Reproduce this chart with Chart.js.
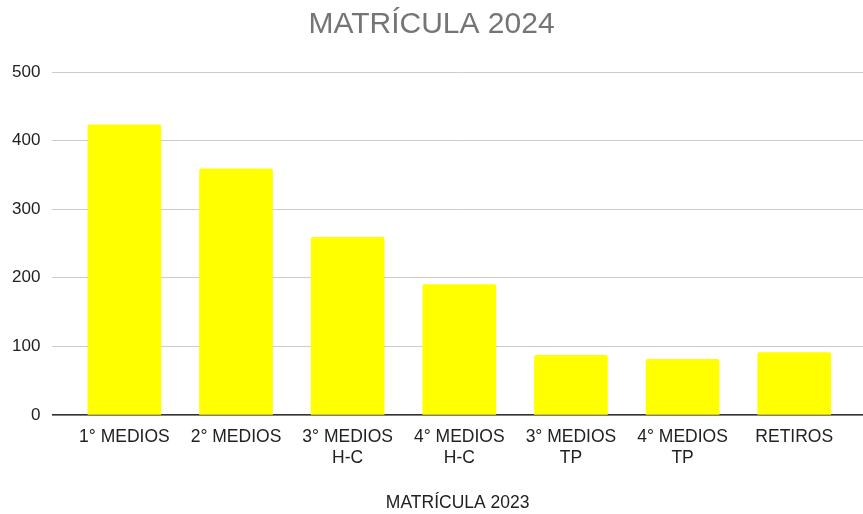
<!DOCTYPE html>
<html>
<head>
<meta charset="utf-8">
<script src="https://cdn.jsdelivr.net/npm/chart.js@4"></script>
<style>
  html, body { margin: 0; padding: 0; background: #fff; }
  #wrap { width: 863px; height: 514px; }
</style>
</head>
<body>
<div id="wrap"><canvas id="matriculaChart"></canvas></div>
<script>
// categories on the x axis (multi-line ones as arrays)
const categories = [
  "1° MEDIOS",
  "2° MEDIOS",
  ["3° MEDIOS", "H-C"],
  ["4° MEDIOS", "H-C"],
  ["3° MEDIOS", "TP"],
  ["4° MEDIOS", "TP"],
  "RETIROS",
];
const matricula = [423, 359, 259, 190, 87, 81, 91];
const yTicks = [0, 100, 200, 300, 400, 500];

const fontFamily = "'Liberation Sans', Arial, sans-serif";

const config = {
  type: "bar",
  data: {
    datasets: [
      {
        label: "MATRÍCULA 2024",
        data: matricula.map((v, i) => ({ x: i, y: v })),
        backgroundColor: "#ffff00",
        borderWidth: 0,
        borderRadius: { topLeft: 2, topRight: 2 },
        borderSkipped: "bottom",
        barThickness: 73,
      },
    ],
  },
  options: {
    responsive: true,
    maintainAspectRatio: false,
    animation: false,
    layout: { padding: { left: 0, right: 0, top: 0, bottom: 0 } },
    plugins: {
      legend: { display: false },
      tooltip: { enabled: false },
      title: {
        display: true,
        text: "MATRÍCULA 2024",
        color: "#757575",
        font: { family: fontFamily, size: 30, weight: "normal" },
        padding: { top: 7, bottom: 29 },
      },
    },
    scales: {
      x: {
        type: "linear",
        offset: false,
        min: -0.645,
        max: 6.616,
        afterBuildTicks: (axis) => {
          axis.ticks = categories.map((c, i) => ({ value: i }));
        },
        grid: { display: false, drawTicks: false },
        border: { display: true, color: "#333333", width: 1.5 },
        ticks: {
          autoSkip: false,
          maxRotation: 0,
          padding: 12,
          color: "#222222",
          font: { family: fontFamily, size: 17.5, lineHeight: 1.2 },
          callback: (value) => categories[value] ?? "",
        },
        title: {
          display: true,
          text: "MATRÍCULA 2023",
          color: "#222222",
          font: { family: fontFamily, size: 17.5 },
          padding: { top: 12, bottom: 0 },
        },
      },
      y: {
        min: 0,
        max: 500,
        afterBuildTicks: (axis) => {
          axis.ticks = yTicks.map((v) => ({ value: v }));
        },
        grid: { color: "#cccccc", lineWidth: 1, drawTicks: false },
        border: { display: false },
        ticks: {
          padding: 12,
          color: "#222222",
          font: { family: fontFamily, size: 17 },
        },
      },
    },
  },
};

const matriculaChart = new Chart(document.getElementById("matriculaChart"), config);
</script>
</body>
</html>
